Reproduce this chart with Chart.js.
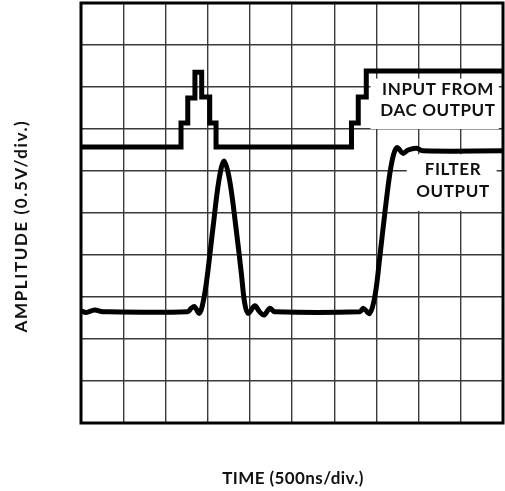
<!DOCTYPE html>
<html>
<head>
<meta charset="utf-8">
<script src="https://cdn.jsdelivr.net/npm/chart.js@4"></script>
<style>
  html, body { margin: 0; padding: 0; background: #fff; }
  #wrap { width: 505px; height: 491px; }
</style>
</head>
<body>
<div id="wrap"><canvas id="chart" width="505" height="491"></canvas></div>
<script>
// grid divisions (time in 500ns/div, amplitude in 0.5V/div)
const divTicks = [0, 1, 2, 3, 4, 5, 6, 7, 8, 9, 10];

// input from DAC (stepped)
const dacTime = [0, 2.37, 2.37, 2.53, 2.53, 2.70, 2.70, 2.86, 2.86, 3.05, 3.05, 3.20, 3.20,
  6.41, 6.41, 6.57, 6.57, 6.76, 6.76, 10];
const dacLevel = [6.57, 6.57, 7.14, 7.14, 7.74, 7.74, 8.35, 8.35, 7.76, 7.76, 7.14, 7.14, 6.57,
  6.57, 7.14, 7.14, 7.76, 7.76, 8.38, 8.38];

// filter output
const filterTime = [0, 0.12, 0.32, 0.52, 2.53, 2.61, 2.69, 2.80, 2.87, 2.97, 3.13, 3.27, 3.39,
  3.52, 3.67, 3.80, 3.88, 3.96, 4.12, 4.23, 4.34, 4.47, 4.59, 6.61, 6.69, 6.84, 6.97, 7.08,
  7.20, 7.32, 7.41, 7.49, 7.63, 7.75, 7.95, 8.11, 10];
const filterLevel = [2.67, 2.63, 2.69, 2.65, 2.65, 2.73, 2.77, 2.61, 2.77, 3.33, 4.67, 5.79, 6.24,
  5.79, 4.67, 3.56, 2.85, 2.61, 2.79, 2.65, 2.57, 2.73, 2.65, 2.65, 2.73, 2.61, 3.05, 3.95,
  5.00, 5.95, 6.40, 6.56, 6.42, 6.50, 6.54, 6.48, 6.48];

const pts = (xs, ys) => xs.map((x, i) => ({ x: x, y: ys[i] }));

const labels = {
  id: 'labels',
  beforeDatasetsDraw(chart) {
    const { ctx, scales: { x, y } } = chart;
    ctx.save();
    ctx.fillStyle = '#fff';
    // white boxes behind the trace labels
    ctx.fillRect(x.getPixelForValue(6.86), y.getPixelForValue(8.2), x.getPixelForValue(9.9) - x.getPixelForValue(6.86), y.getPixelForValue(7.0) - y.getPixelForValue(8.2));
    ctx.fillRect(x.getPixelForValue(7.72), y.getPixelForValue(6.4), x.getPixelForValue(9.85) - x.getPixelForValue(7.72), y.getPixelForValue(5.05) - y.getPixelForValue(6.4));
    ctx.fillStyle = '#111';
    ctx.font = 'bold 17px Lato';
    ctx.letterSpacing = '0.6px';
    ctx.textAlign = 'center';
    ctx.textBaseline = 'middle';
    ctx.fillText('INPUT FROM', 438, 90);
    ctx.fillText('DAC OUTPUT', 438, 111);
    ctx.fillText('FILTER', 453, 170);
    ctx.fillText('OUTPUT', 453, 192);
    ctx.restore();
  },
  afterDraw(chart) {
    const { ctx, chartArea: a } = chart;
    ctx.save();
    ctx.strokeStyle = '#000';
    ctx.lineWidth = 3;
    ctx.strokeRect(a.left, a.top, a.right - a.left, a.bottom - a.top);
    ctx.fillStyle = '#111';
    ctx.font = 'bold 17px Lato';
    ctx.textAlign = 'center';
    ctx.textBaseline = 'middle';
    ctx.letterSpacing = '0.4px';
    ctx.fillText('TIME (500ns/div.)', 293, 479);
    ctx.letterSpacing = '1.6px';
    ctx.translate(22, 226);
    ctx.rotate(-Math.PI / 2);
    ctx.fillText('AMPLITUDE (0.5V/div.)', 0, 0);
    ctx.restore();
  }
};

const gridOpts = {
  color: '#3a3a3a',
  lineWidth: 1.4,
  drawTicks: false
};

new Chart(document.getElementById('chart'), {
  type: 'scatter',
  data: {
    datasets: [
      {
        label: 'INPUT FROM DAC OUTPUT',
        data: pts(dacTime, dacLevel),
        showLine: true,
        borderColor: '#000',
        borderWidth: 5,
        borderJoinStyle: 'miter',
        pointRadius: 0,
        tension: 0
      },
      {
        label: 'FILTER OUTPUT',
        data: pts(filterTime, filterLevel),
        showLine: true,
        borderColor: '#000',
        borderWidth: 5,
        borderJoinStyle: 'round',
        pointRadius: 0,
        tension: 0.35
      }
    ]
  },
  options: {
    responsive: false,
    animation: false,
    layout: { padding: { left: 81, right: 2, top: 3, bottom: 68 } },
    plugins: { legend: { display: false }, tooltip: { enabled: false } },
    scales: {
      x: {
        type: 'linear',
        min: divTicks[0],
        max: divTicks[divTicks.length - 1],
        afterBuildTicks: s => { s.ticks = divTicks.map(v => ({ value: v })); },
        ticks: { display: false },
        grid: gridOpts,
        border: { display: false }
      },
      y: {
        type: 'linear',
        min: divTicks[0],
        max: divTicks[divTicks.length - 1],
        afterBuildTicks: s => { s.ticks = divTicks.map(v => ({ value: v })); },
        ticks: { display: false },
        grid: gridOpts,
        border: { display: false }
      }
    }
  },
  plugins: [labels]
});
</script>
</body>
</html>
